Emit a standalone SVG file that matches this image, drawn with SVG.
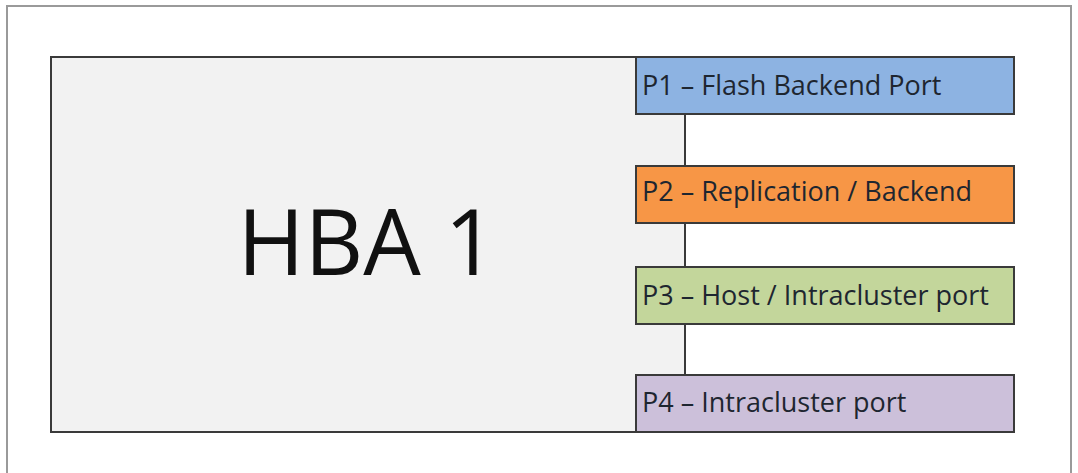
<svg xmlns="http://www.w3.org/2000/svg" width="1078" height="473" viewBox="0 0 1078 473">
<style>
.frame{fill:#fff;stroke:#9a9a9a;stroke-width:2}
.box{stroke:#3a3a3a;stroke-width:2}
.lbl{font-family:"Open Sans","Liberation Sans",sans-serif;font-size:27px;fill:#1e2630}
.big{font-family:"Open Sans","Liberation Sans",sans-serif;font-size:91px;fill:#111}
</style>
<rect width="1078" height="473" fill="#fff"/>
<rect class="frame" x="7" y="6" width="1064" height="480"/>
<g id="hba1">
<rect class="box" x="51" y="57" width="634" height="375" fill="#f2f2f2"/>
<text class="big" x="367" y="275" text-anchor="middle">HBA 1</text>
</g>
<g id="connectors"></g>
<g id="p1">
<rect class="box" x="636" y="57" width="378" height="57" fill="#8db3e2"/>
<text class="lbl" x="642" y="95">P1 – Flash Backend Port</text>
</g>
<g id="p2">
<rect class="box" x="636" y="166" width="378" height="57" fill="#f79646"/>
<text class="lbl" x="642" y="201">P2 – Replication / Backend</text>
</g>
<g id="p3">
<rect class="box" x="636" y="267" width="378" height="57" fill="#c3d69b"/>
<text class="lbl" x="642" y="305">P3 – Host / Intracluster port</text>
</g>
<g id="p4">
<rect class="box" x="636" y="375" width="378" height="57" fill="#ccc0da"/>
<text class="lbl" x="642" y="412">P4 – Intracluster port</text>
</g>
</svg>
